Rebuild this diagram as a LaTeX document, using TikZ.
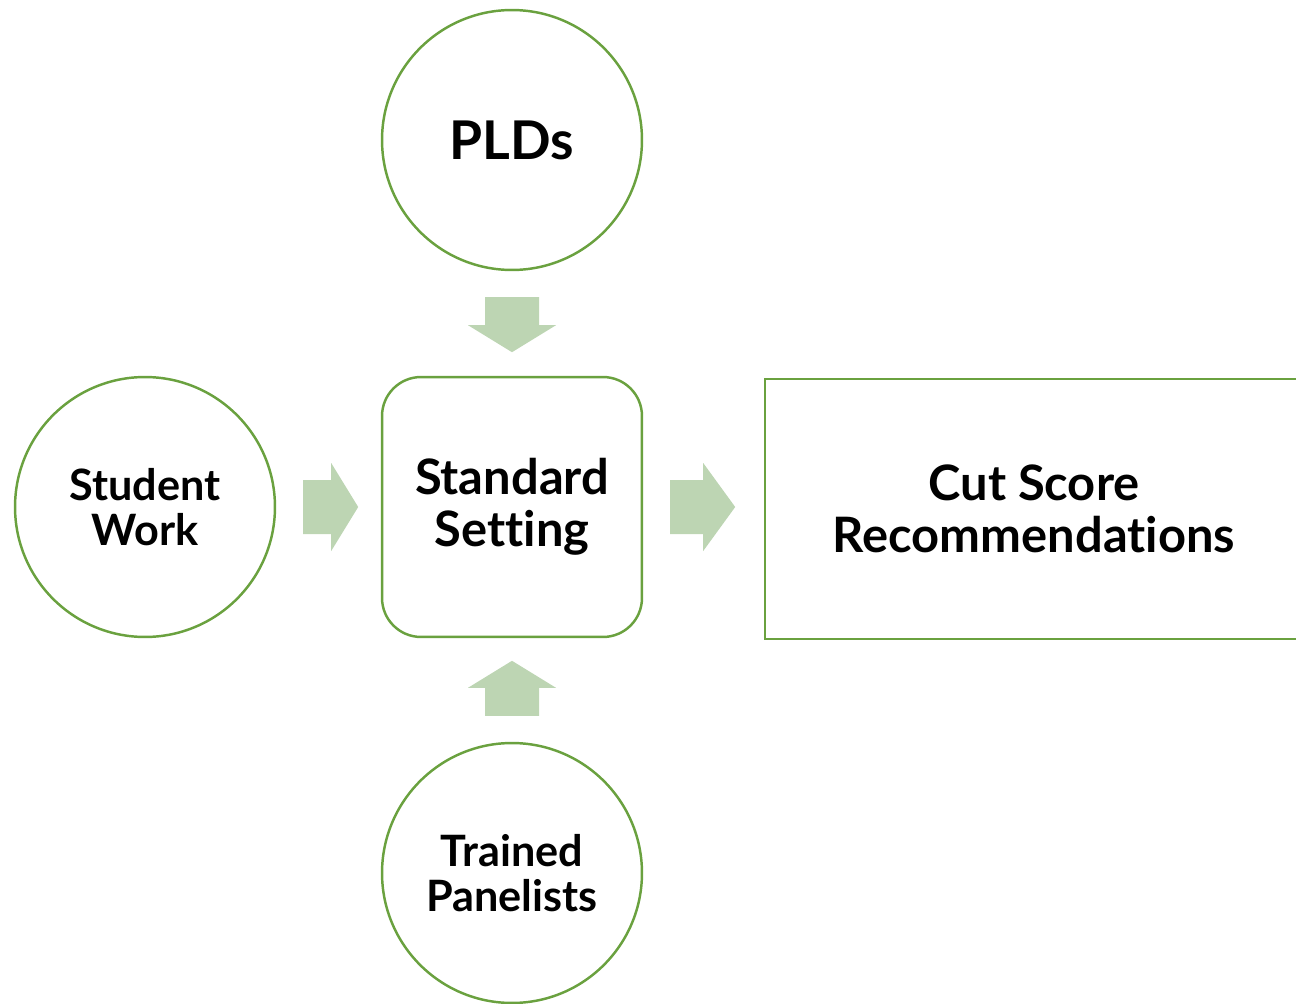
\documentclass[tikz,border=0pt]{standalone}
\usepackage{fontspec}
\setmainfont{Lato}[Ligatures={NoCommon}]
\usetikzlibrary{positioning}
\definecolor{leaf}{HTML}{6AA13F}
\definecolor{mint}{HTML}{BDD5B3}
\tikzset{
	bubble/.style   = {draw=leaf, line width=1.4pt, circle, minimum size=5.2cm,
		align=center},
	stage/.style    = {draw=leaf, line width=1.4pt, rectangle, rounded corners=0.78cm,
		minimum width=5.2cm, minimum height=5.2cm, align=center},
	result/.style   = {draw=leaf, line width=1.4pt, rectangle,
		minimum width=10.76cm, minimum height=5.2cm, align=center},
	flow/.style     = {fill=mint}
}
\newcommand{\plfont}{\fontsize{30.4}{33}\selectfont\bfseries}
\newcommand{\midfont}{\fontsize{27.8}{29.4}\selectfont\bfseries}
\newcommand{\sidefont}{\fontsize{24.6}{26}\selectfont\bfseries}

\begin{document}
\begin{tikzpicture}[x=0.02cm, y=-0.02cm]

	\useasboundingbox (0,0) rectangle (1296,1004);

	\draw
	% the inputs and the process
	node at (512,140) [bubble, font=\plfont] (plds) {PLDs}
	node at (145,507) [bubble, font=\sidefont] (work) {Student\\Work}
	node at (512,507) [stage, font=\midfont] (setting) {Standard\\Setting}
	node at (512,873) [bubble, font=\sidefont] (panel) {Trained\\Panelists}
	% the outcome
	node at (1034,509) [result, font=\midfont] (cut) {Cut Score\\Recommendations};

	% block arrows into and out of the process
	\fill[flow, shift={(plds.south)}] (-27,26) -- (27,26) -- (27,54) -- (44,54)
		-- (0,81) -- (-44,54) -- (-27,54) -- cycle;
	\fill[flow, shift={(panel.north)}] (-27,-26) -- (27,-26) -- (27,-54) -- (44,-54)
		-- (0,-81) -- (-44,-54) -- (-27,-54) -- cycle;
	\fill[flow, shift={(work.east)}] (27,-27) -- (55,-27) -- (55,-44) -- (82,0)
		-- (55,44) -- (55,27) -- (27,27) -- cycle;
	\fill[flow, shift={(setting.east)}] (27,-27) -- (60,-27) -- (60,-44) -- (92,0)
		-- (60,44) -- (60,27) -- (27,27) -- cycle;

\end{tikzpicture}
\end{document}
